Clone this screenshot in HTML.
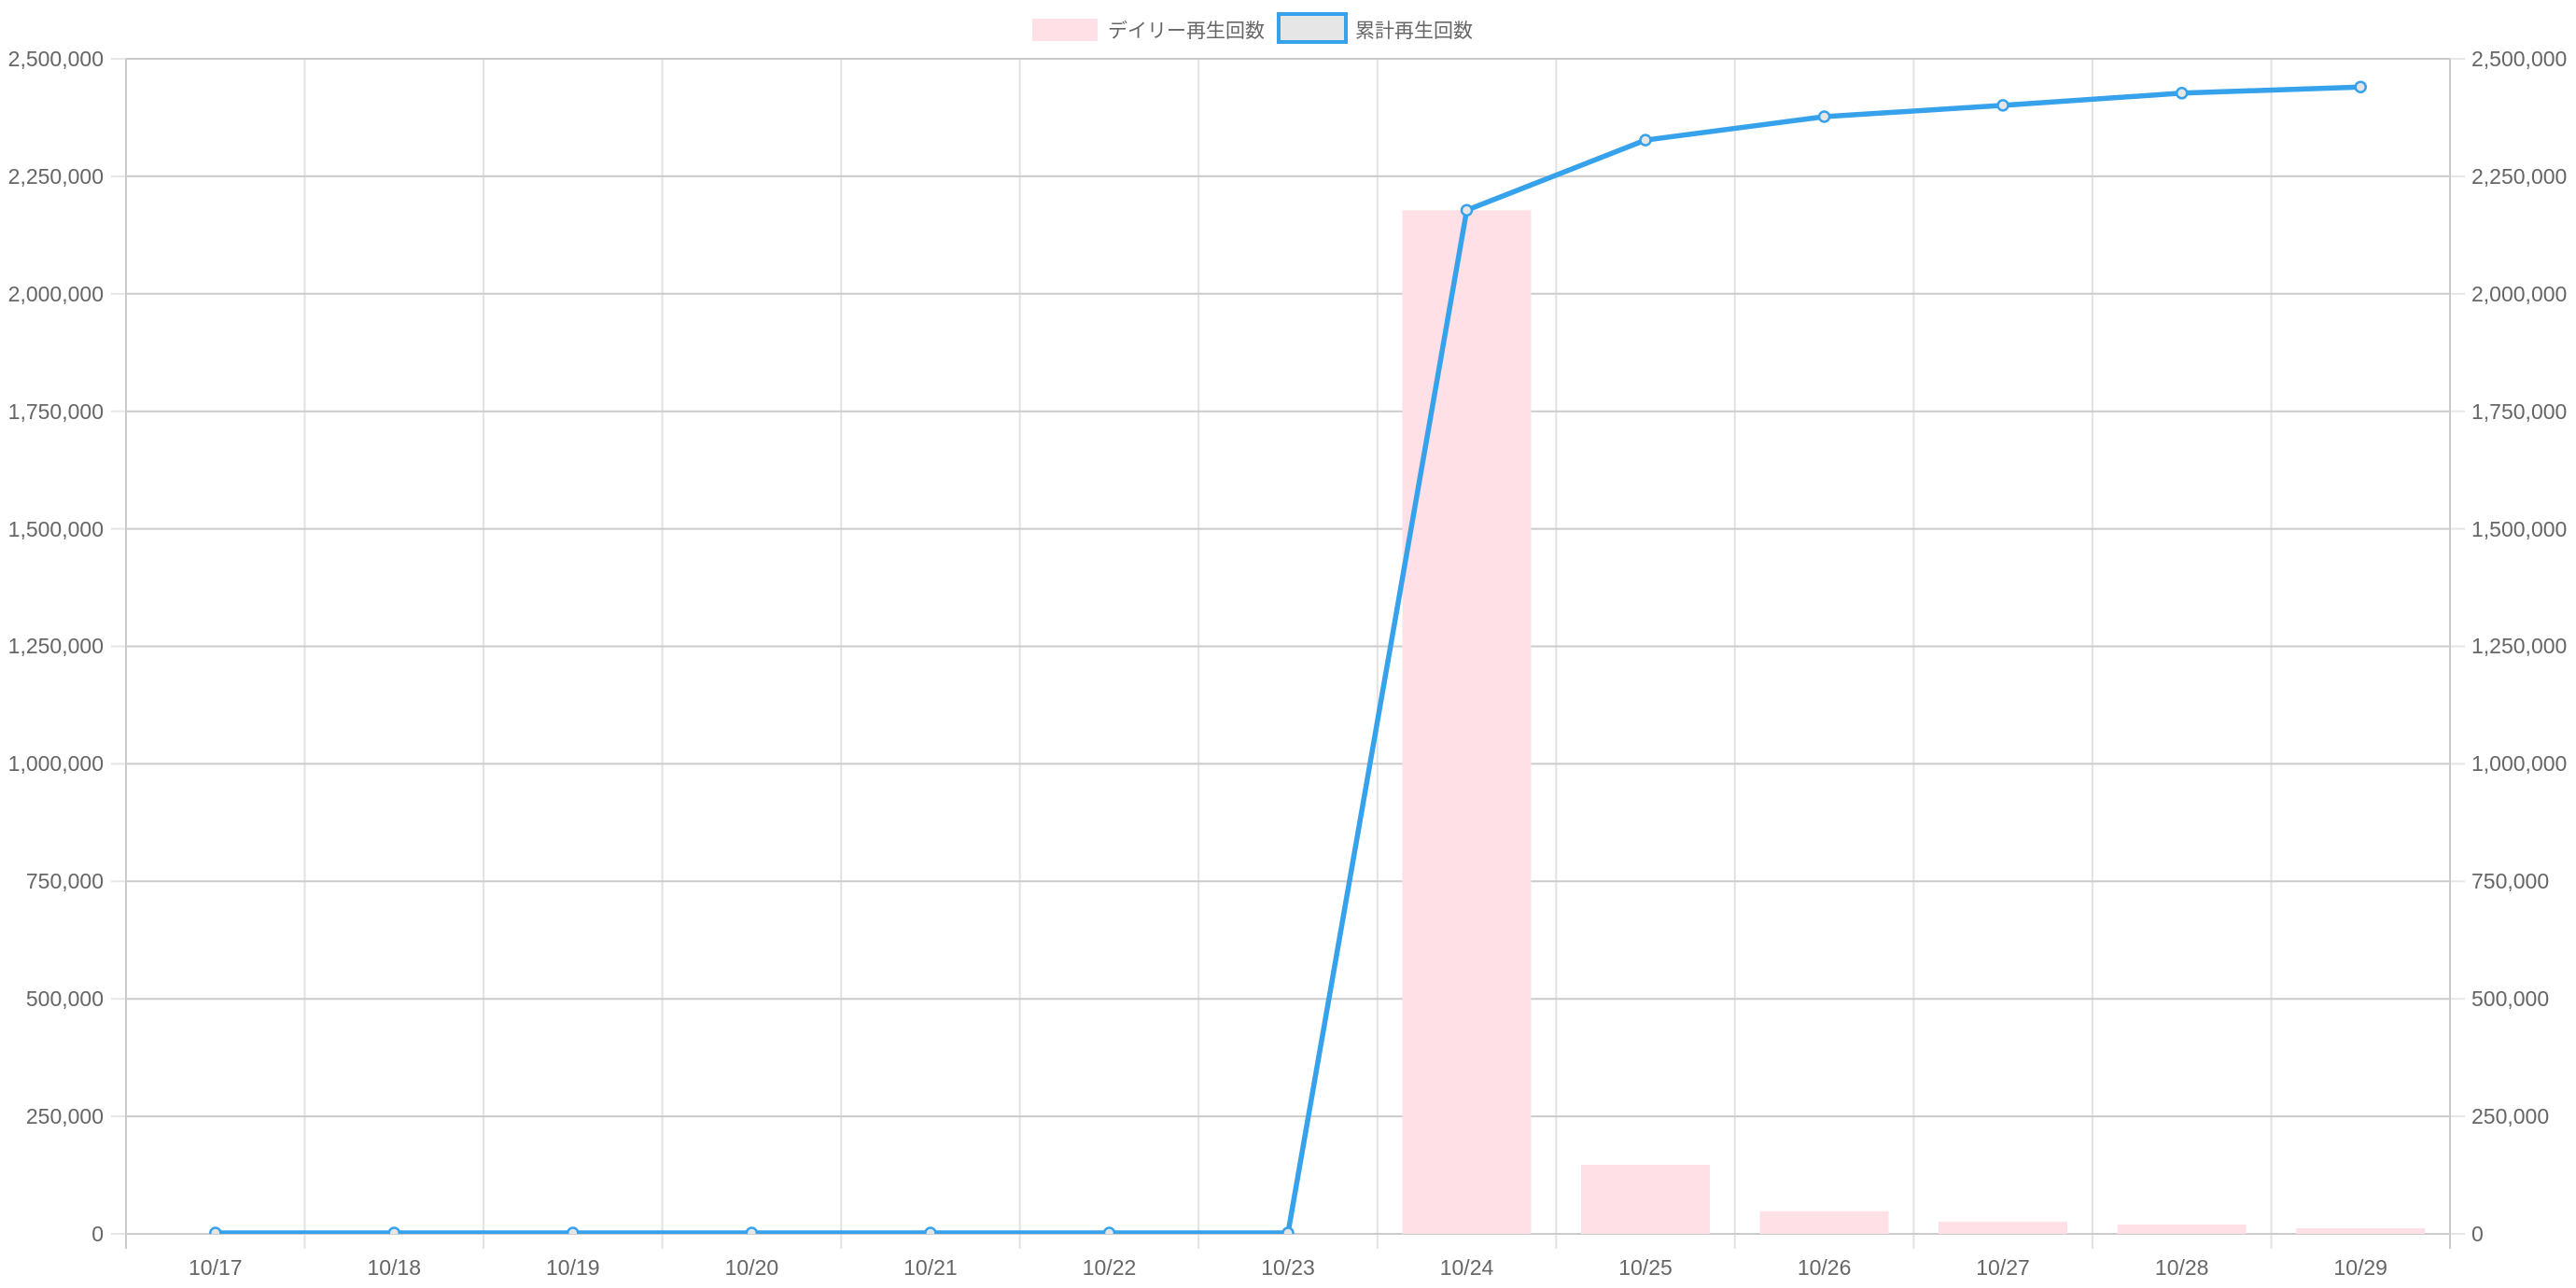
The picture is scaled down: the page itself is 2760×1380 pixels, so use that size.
<!DOCTYPE html>
<html><head><meta charset="utf-8"><style>
html,body{margin:0;padding:0;background:#fff;width:2760px;height:1380px;overflow:hidden}
text{font-family:"Liberation Sans","Noto Sans CJK JP",sans-serif;fill:#666;font-size:23px}
text.lg{font-size:21px}
</style></head><body>
<svg width="2760" height="1380" viewBox="0 0 2760 1380" xmlns="http://www.w3.org/2000/svg">
<defs><clipPath id="c"><rect x="135" y="40" width="2490" height="1282"/></clipPath></defs>
<g stroke="#e2e2e2" stroke-width="2">
<line x1="326.5" y1="63" x2="326.5" y2="1338"/><line x1="518.1" y1="63" x2="518.1" y2="1338"/>
<line x1="709.6" y1="63" x2="709.6" y2="1338"/><line x1="901.2" y1="63" x2="901.2" y2="1338"/>
<line x1="1092.7" y1="63" x2="1092.7" y2="1338"/><line x1="1284.2" y1="63" x2="1284.2" y2="1338"/>
<line x1="1475.8" y1="63" x2="1475.8" y2="1338"/><line x1="1667.3" y1="63" x2="1667.3" y2="1338"/>
<line x1="1858.8" y1="63" x2="1858.8" y2="1338"/><line x1="2050.4" y1="63" x2="2050.4" y2="1338"/>
<line x1="2241.9" y1="63" x2="2241.9" y2="1338"/><line x1="2433.5" y1="63" x2="2433.5" y2="1338"/>
</g>
<g stroke="#cbcbcb" stroke-width="2">
<line x1="135" y1="63" x2="2625" y2="63"/><line x1="135" y1="188.9" x2="2625" y2="188.9"/>
<line x1="135" y1="314.8" x2="2625" y2="314.8"/><line x1="135" y1="440.7" x2="2625" y2="440.7"/>
<line x1="135" y1="566.6" x2="2625" y2="566.6"/><line x1="135" y1="692.5" x2="2625" y2="692.5"/>
<line x1="135" y1="818.4" x2="2625" y2="818.4"/><line x1="135" y1="944.3" x2="2625" y2="944.3"/>
<line x1="135" y1="1070.2" x2="2625" y2="1070.2"/><line x1="135" y1="1196.1" x2="2625" y2="1196.1"/>
<line x1="135" y1="1322" x2="2625" y2="1322"/>
</g>
<g stroke="#e6e6e6" stroke-width="2">
<line x1="119" y1="63" x2="135" y2="63"/><line x1="119" y1="188.9" x2="135" y2="188.9"/><line x1="119" y1="314.8" x2="135" y2="314.8"/><line x1="119" y1="440.7" x2="135" y2="440.7"/><line x1="119" y1="566.6" x2="135" y2="566.6"/><line x1="119" y1="692.5" x2="135" y2="692.5"/><line x1="119" y1="818.4" x2="135" y2="818.4"/><line x1="119" y1="944.3" x2="135" y2="944.3"/><line x1="119" y1="1070.2" x2="135" y2="1070.2"/><line x1="119" y1="1196.1" x2="135" y2="1196.1"/><line x1="119" y1="1322" x2="135" y2="1322"/>
<line x1="2625" y1="63" x2="2641" y2="63"/><line x1="2625" y1="188.9" x2="2641" y2="188.9"/><line x1="2625" y1="314.8" x2="2641" y2="314.8"/><line x1="2625" y1="440.7" x2="2641" y2="440.7"/><line x1="2625" y1="566.6" x2="2641" y2="566.6"/><line x1="2625" y1="692.5" x2="2641" y2="692.5"/><line x1="2625" y1="818.4" x2="2641" y2="818.4"/><line x1="2625" y1="944.3" x2="2641" y2="944.3"/><line x1="2625" y1="1070.2" x2="2641" y2="1070.2"/><line x1="2625" y1="1196.1" x2="2641" y2="1196.1"/><line x1="2625" y1="1322" x2="2641" y2="1322"/>
</g>
<g stroke="#cbcbcb" stroke-width="2">
<line x1="135" y1="63" x2="135" y2="1338"/><line x1="2625" y1="63" x2="2625" y2="1338"/>
</g>
<g fill="#ffe0e6">
<rect x="1502.5" y="225.2" width="138" height="1096.8"/>
<rect x="1694" y="1248" width="138" height="74"/>
<rect x="1885.6" y="1297.8" width="138" height="24.2"/>
<rect x="2077" y="1308.9" width="138" height="13.1"/>
<rect x="2268.7" y="1312" width="138" height="10"/>
<rect x="2460.2" y="1316" width="138" height="6"/>
</g>
<g clip-path="url(#c)">
<polyline fill="none" stroke="#36A2EB" stroke-width="5.5" stroke-linejoin="round" points="230.8,1321 422.3,1321 613.8,1321 805.4,1321 996.9,1321 1188.5,1321 1380,1321 1571.5,225.2 1763,150.1 1954.6,125 2146,112.9 2337.7,99.8 2529.2,93.2"/>
<g fill="#e6e6e6" stroke="#36A2EB" stroke-width="2.5">
<circle cx="230.8" cy="1321" r="5.5"/><circle cx="422.3" cy="1321" r="5.5"/><circle cx="613.8" cy="1321" r="5.5"/><circle cx="805.4" cy="1321" r="5.5"/><circle cx="996.9" cy="1321" r="5.5"/><circle cx="1188.5" cy="1321" r="5.5"/><circle cx="1380" cy="1321" r="5.5"/>
<circle cx="1571.5" cy="225.2" r="5.5"/><circle cx="1763" cy="150.1" r="5.5"/><circle cx="1954.6" cy="125" r="5.5"/><circle cx="2146" cy="112.9" r="5.5"/><circle cx="2337.7" cy="99.8" r="5.5"/><circle cx="2529.2" cy="93.2" r="5.5"/>
</g>
</g>
<g text-anchor="end">
<text x="111" y="71">2,500,000</text><text x="111" y="197">2,250,000</text><text x="111" y="323">2,000,000</text><text x="111" y="449">1,750,000</text><text x="111" y="575">1,500,000</text><text x="111" y="700">1,250,000</text><text x="111" y="826">1,000,000</text><text x="111" y="952">750,000</text><text x="111" y="1078">500,000</text><text x="111" y="1204">250,000</text><text x="111" y="1330">0</text>
</g>
<g text-anchor="start">
<text x="2648" y="71">2,500,000</text><text x="2648" y="197">2,250,000</text><text x="2648" y="323">2,000,000</text><text x="2648" y="449">1,750,000</text><text x="2648" y="575">1,500,000</text><text x="2648" y="700">1,250,000</text><text x="2648" y="826">1,000,000</text><text x="2648" y="952">750,000</text><text x="2648" y="1078">500,000</text><text x="2648" y="1204">250,000</text><text x="2648" y="1330">0</text>
</g>
<g text-anchor="middle">
<text x="230.8" y="1366">10/17</text><text x="422.3" y="1366">10/18</text><text x="613.8" y="1366">10/19</text><text x="805.4" y="1366">10/20</text><text x="996.9" y="1366">10/21</text><text x="1188.5" y="1366">10/22</text><text x="1380" y="1366">10/23</text><text x="1571.5" y="1366">10/24</text><text x="1763" y="1366">10/25</text><text x="1954.6" y="1366">10/26</text><text x="2146" y="1366">10/27</text><text x="2337.7" y="1366">10/28</text><text x="2529.2" y="1366">10/29</text>
</g>
<rect x="1106" y="20" width="70" height="24" fill="#ffe0e6"/>
<text class="lg" x="1187" y="40">デイリー再生回数</text>
<rect x="1370" y="15" width="72" height="30" fill="#e6e6e6" stroke="#36A2EB" stroke-width="4"/>
<text class="lg" x="1452" y="40">累計再生回数</text>
</svg>
</body></html>
